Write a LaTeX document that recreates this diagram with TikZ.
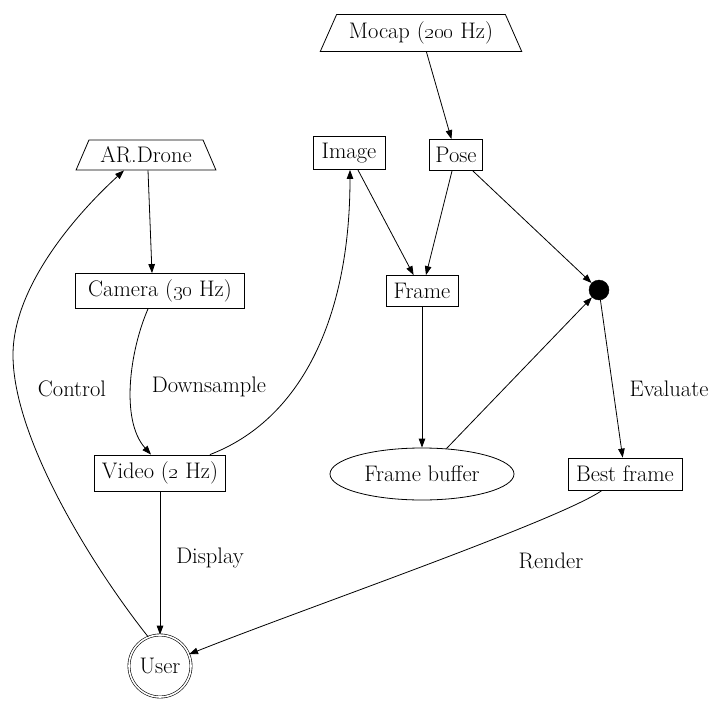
\documentclass[tikz,border=0pt]{standalone}
\usetikzlibrary{shapes.geometric,arrows.meta}
\begin{document}
\begin{tikzpicture}[x=1pt,y=-1pt,
  every node/.style={font=\fontsize{22.5}{26}\selectfont},
  box/.style={draw,line width=0.8pt,rectangle,inner xsep=2pt,inner ysep=1pt},
  trap/.style={draw,line width=0.8pt,trapezium,trapezium left angle=60,trapezium right angle=60,trapezium stretches=true,inner sep=1pt},
  lbl/.style={inner sep=1pt},
  edge/.style={line width=0.8pt,-{Triangle[length=9pt,width=6.5pt]}}]
\useasboundingbox (0,0) rectangle (723,709);
\node[trap,minimum width=202pt,minimum height=37pt] (mocap) at (421,33) {Mocap (\oldstylenums{200} Hz)};
\node[trap,minimum width=140pt,minimum height=30pt] (ar) at (146,155) {AR.Drone};
\node[box,minimum width=72pt,minimum height=33pt] (image) at (349,153) {Image};
\node[box,minimum width=53pt,minimum height=31pt] (pose) at (456,155) {Pose};
\node[box,minimum width=169pt,minimum height=35pt] (camera) at (160,291) {Camera (\oldstylenums{30} Hz)};
\node[box,minimum width=72pt,minimum height=31pt] (frame) at (422,291) {Frame};
\node[circle,fill=black,draw,minimum size=20pt,inner sep=0pt] (dot) at (599,290) {};
\node[box,minimum width=131pt,minimum height=36pt] (video) at (160,473) {Video (\oldstylenums{2} Hz)};
\node[ellipse,draw,line width=0.8pt,minimum width=184pt,minimum height=52pt,inner sep=0pt] (buffer) at (422,474) {Frame buffer};
\node[box,minimum width=114pt,minimum height=32pt] (best) at (625,474) {Best frame};
\node[circle,draw,line width=0.6pt,double,double distance=1.6pt,minimum size=62pt,inner sep=0pt] (user) at (160,666) {User};
\node[lbl] (lcontrol) at (72,389) {Control};
\node[lbl] (ldown) at (209,387) {Downsample};
\node[lbl] (leval) at (669,389) {Evaluate};
\node[lbl] (ldisplay) at (210,558) {Display};
\node[lbl] (lrender) at (551,561) {Render};
\coordinate (cleft) at (13,355);
\draw[edge] (mocap) -- (pose);
\draw[edge] ([xshift=2pt]ar.south) -- ([xshift=-8pt]camera.north);
\draw[edge] (image) -- (frame);
\draw[edge] (pose) -- (frame);
\draw[edge] (pose) -- (dot);
\draw[edge] ([xshift=-12pt]camera.south) .. controls (130,350) and (120,420) .. ([xshift=-9pt]video.north);
\draw[edge] ([xshift=-16pt]video.north east) .. controls (300,420) and (350,320) .. ([xshift=1pt]image.south);
\draw[edge] (frame) -- (buffer);
\draw[edge] (buffer) -- (dot);
\draw[edge] (dot) -- (best);
\draw[edge] (video) -- (user);
\draw[edge] (user.112) .. controls (95,570) and (13,440) .. (cleft) .. controls (13,290) and (70,220) .. ([xshift=-22pt]ar.south);
\draw[edge] ([xshift=-23pt]best.south) .. controls (560,520) and (300,610) .. (user.22);
\end{tikzpicture}
\end{document}
